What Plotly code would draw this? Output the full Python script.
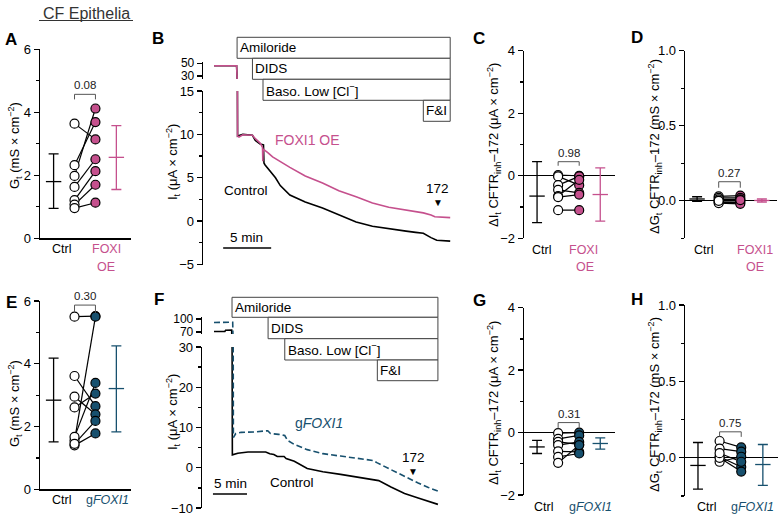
import plotly.graph_objects as go

W, H = 783, 523
FONT = "Liberation Sans, Arial, sans-serif"
PINK = "#C5508D"
BLUE = "#17506E"
BLACK = "black"

def fx(p):
    return p / W

def fy(p):
    return 1 - p / H

# ---------------- DATA ----------------
# Panel A: Gt (mS x cm^-2), paired Ctrl vs FOXI OE
A_ctrl = [3.64, 2.32, 1.98, 1.63, 1.21, 1.07, 0.96]
A_exp = [3.14, 3.69, 4.12, 2.51, 2.13, 1.70, 1.13]
A_ctrl_stats = [1.80, 0.95, 2.68]   # mean, low, high
A_exp_stats = [2.57, 1.55, 3.58]
A_p = "0.08"

# Panel C: dIt CFTRinh-172 (uA x cm^-2)
C_ctrl = [0.02, -0.02, -0.30, -0.45, -0.65, -0.68, -1.10]
C_exp = [0.00, -0.30, -0.02, -0.55, -0.13, -0.60, -1.10]
C_ctrl_stats = [-0.65, -1.50, 0.45]
C_exp_stats = [-0.60, -1.45, 0.25]
C_p = "0.98"

# Panel D: dGt CFTRinh-172 (mS x cm^-2)
D_ctrl = [0.03, 0.02, 0.01, 0.00, -0.01, -0.015, 0.00]
D_exp = [0.035, 0.02, 0.01, 0.00, -0.01, -0.02, 0.005]
D_ctrl_stats = [0.012, -0.003, 0.027]
D_exp_stats = [0.002, -0.008, 0.012]
D_p = "0.27"

# Panel E: Gt, Ctrl vs gFOXI1
E_ctrl = [5.50, 1.55, 3.61, 2.95, 2.61, 1.67, 1.40, 1.45]
E_exp = [5.52, 5.50, 2.65, 2.39, 3.05, 3.39, 1.78, 2.18]
E_ctrl_stats = [2.84, 1.51, 4.18]
E_exp_stats = [3.21, 1.83, 4.57]
E_p = "0.30"

# Panel G: dIt CFTRinh-172, Ctrl vs gFOXI1
G_ctrl = [-0.02, -0.20, -0.30, -0.40, -0.60, -0.78, -0.97]
G_exp = [0.00, -0.09, -0.38, -0.30, -0.62, -0.67, -0.40]
G_ctrl_stats = [-0.46, -0.67, -0.25]
G_exp_stats = [-0.35, -0.53, -0.17]
G_p = "0.31"

# Panel H: dGt CFTRinh-172, Ctrl vs gFOXI1
H_ctrl = [0.11, 0.06, 0.007, -0.026, 0.00, 0.03]
H_exp = [0.068, 0.04, -0.06, 0.007, -0.09, -0.026]
H_ctrl_stats = [-0.05, -0.205, 0.10]
H_exp_stats = [-0.044, -0.18, 0.087]
H_p = "0.75"

# Panel B traces: time (min) and It (uA x cm^-2)
B_t_ctrl = [0, 2.35, 2.45, 3.0, 4.0, 4.3, 4.8, 5.15, 5.2, 5.3, 6.4, 6.9, 7.9, 9.5, 11.3,
            13.0, 14.8, 16.5, 18.2, 20.0, 21.0, 21.8, 22.6, 23.2, 24.6]
B_I_ctrl = [46, 46, 9.8, 10.0, 9.9, 9.3, 8.9, 8.8, 6.7, 6.5, 5.0, 4.1, 3.0, 2.2, 1.5,
            0.7, -0.1, -0.6, -0.9, -1.15, -1.3, -1.4, -1.9, -2.2, -2.3]
B_t_exp = [0, 2.35, 2.45, 2.6, 3.0, 4.0, 4.3, 4.8, 5.05, 5.08, 5.12, 5.6, 6.1, 7.9, 9.5,
           11.3, 13.0, 14.8, 16.5, 18.2, 20.0, 21.0, 21.8, 22.6, 23.0, 24.6]
B_I_exp = [46, 46, 9.8, 9.7, 9.95, 9.9, 9.5, 9.0, 8.5, 6.9, 8.3, 7.9, 7.4, 6.2, 5.2,
           4.4, 3.5, 2.8, 2.1, 1.6, 1.25, 1.05, 0.95, 0.7, 0.5, 0.4]
B_box_labels = ["Amiloride", "DIDS", "Baso. Low [Cl<sup>\u2212</sup>]", "F&I"]
B_box_start = [2.4, 4.0, 5.1, 21.8]
B_end = 24.6
B_inh = 23.3

# Panel F traces
F_t_ctrl = [0, 1.6, 1.7, 2.6, 2.7, 3.5, 5.0, 7.0, 7.6, 8.2, 8.8, 9.3, 10.3, 10.6, 11.8,
            13.7, 16.0, 18.6, 21.0, 23.4, 24.2, 26.0, 28.0, 30.0, 31.5, 32.9]
F_I_ctrl = [71, 71.5, 74, 74.5, 3.2, 3.6, 3.9, 4.0, 3.9, 3.5, 3.3, 2.8, 2.8, 2.3, 1.6,
            -0.2, -1.0, -1.65, -2.3, -2.9, -3.2, -4.8, -6.4, -7.5, -8.4, -9.1]
F_t_exp = [0, 2.75, 2.85, 3.2, 4.0, 6.0, 7.9, 8.3, 9.5, 10.4, 10.8, 11.8, 13.7, 16.0,
           18.6, 21.0, 23.4, 24.0, 26.0, 28.0, 30.0, 31.5, 32.9]
F_I_exp = [92, 92.5, 7.5, 8.5, 8.8, 8.9, 9.2, 8.5, 8.3, 8.0, 6.8, 5.8, 4.5, 3.5,
           2.9, 2.4, 1.8, 1.2, -0.5, -2.1, -3.8, -4.9, -5.8]
F_box_labels = ["Amiloride", "DIDS", "Baso. Low [Cl<sup>\u2212</sup>]", "F&I"]
F_box_start = [2.65, 7.95, 10.4, 24.0]
F_end = 32.9
F_inh = 29.3

# ---------------- FIGURE ----------------
fig = go.Figure()
layout = dict(
    template="none",
    width=W, height=H, margin=dict(l=0, r=0, t=0, b=0, pad=0, autoexpand=False),
    paper_bgcolor="white", plot_bgcolor="white", showlegend=False,
    font=dict(family=FONT, color=BLACK, size=13),
)
annotations = []
shapes = []


def yax(domain_px, rng, tickvals, minor_vals, ticktext=None, anchor=None, zeroline=False, tsize=13):
    d = dict(
        domain=[fy(domain_px[1]), fy(domain_px[0])], range=rng, showline=True,
        linecolor=BLACK, linewidth=1.3, ticks="outside", ticklen=5, tickwidth=1.3,
        tickcolor=BLACK, showgrid=False, zeroline=zeroline, zerolinecolor=BLACK,
        zerolinewidth=1.3, tickvals=tickvals, tickfont=dict(size=tsize, family=FONT, color=BLACK),
        fixedrange=True, automargin=False,
        minor=dict(tickvals=minor_vals, ticks="outside", ticklen=3, tickwidth=1.3, tickcolor=BLACK,
                   showgrid=False),
    )
    if ticktext is not None:
        d["ticktext"] = ticktext
    if anchor is not None:
        d["anchor"] = anchor
    return d


def xax(domain_px, rng, anchor, show_line=False):
    return dict(
        domain=[fx(domain_px[0]), fx(domain_px[1])], range=rng, anchor=anchor,
        showline=show_line, linecolor=BLACK, linewidth=1.3, ticks="", showticklabels=False,
        showgrid=False, zeroline=False, fixedrange=True, automargin=False,
    )


def text(x, y, s, size=13, color=BLACK, xanchor="center", yanchor="middle", angle=0, bold=False):
    if bold:
        s = "<b>" + s + "</b>"
    annotations.append(dict(
        x=fx(x), y=fy(y), xref="paper", yref="paper", text=s, showarrow=False,
        xanchor=xanchor, yanchor=yanchor, textangle=angle,
        font=dict(size=size, color=color, family=FONT),
    ))


def dot_panel(n, ctrl, exp, cstats, estats, color, p, br_top, br_leg):
    xa, ya = f"x{n}", f"y{n}"
    lx, ly = [], []
    for c, e in zip(ctrl, exp):
        lx += [1, 2, None]
        ly += [c, e, None]
    fig.add_trace(go.Scatter(x=lx, y=ly, mode="lines", line=dict(color=BLACK, width=1.2),
                             xaxis=xa, yaxis=ya, hoverinfo="skip"))
    fig.add_trace(go.Scatter(x=[1] * len(ctrl), y=ctrl, mode="markers", cliponaxis=False,
                             marker=dict(size=9, color="white", line=dict(color=BLACK, width=1.2)),
                             xaxis=xa, yaxis=ya))
    fig.add_trace(go.Scatter(x=[2] * len(exp), y=exp, mode="markers", cliponaxis=False,
                             marker=dict(size=9, color=color, line=dict(color=BLACK, width=1.2)),
                             xaxis=xa, yaxis=ya))
    for xpos, st, col in ((0, cstats, BLACK), (3, estats, color)):
        m, lo, hi = st
        fig.add_trace(go.Scatter(
            x=[xpos], y=[m], mode="markers", cliponaxis=False,
            marker=dict(symbol="line-ew", size=11, line=dict(width=1.3, color=col)),
            error_y=dict(type="data", symmetric=False, array=[hi - m], arrayminus=[m - lo],
                         width=5, thickness=1.3, color=col),
            xaxis=xa, yaxis=ya))
    fig.add_trace(go.Scatter(x=[1, 1, 2, 2], y=[br_leg, br_top, br_top, br_leg], mode="lines",
                             cliponaxis=False, line=dict(color="#555", width=1),
                             xaxis=xa, yaxis=ya, hoverinfo="skip"))
    annotations.append(dict(x=1.5, y=br_top, xref=xa, yref=ya, text=p, showarrow=False,
                            yanchor="bottom", yshift=1, font=dict(size=11.5, family=FONT, color="#222")))


# ---- Panel A (axes 1)
layout["xaxis"] = xax((40, 131), [-0.65, 3.7], "y", show_line=True)
layout["yaxis"] = yax((49.3, 238.3), [0, 6], [0, 2, 4, 6], [1, 3, 5], anchor="x")
dot_panel(1, A_ctrl, A_exp, A_ctrl_stats, A_exp_stats, PINK, A_p, 4.57, 4.41)

# ---- Panel C (axes 4)
layout["xaxis4"] = xax((524, 615), [-0.62, 3.7], "y4")
layout["yaxis4"] = yax((50.7, 238.3), [-2, 4], [-2, 0, 2, 4], [-1, 1, 3], anchor="x4", zeroline=True)
dot_panel(4, C_ctrl, C_exp, C_ctrl_stats, C_exp_stats, PINK, C_p, 0.45, 0.32)

# ---- Panel D (axes 5)
layout["xaxis5"] = xax((685, 777), [-0.56, 3.7], "y5")
layout["yaxis5"] = yax((50.7, 238.3), [-0.25, 1.0], [0, 0.5, 1.0], [-0.25, 0.25, 0.75],
                       ticktext=["0.0", "0.5", "1.0"], anchor="x5", zeroline=True)
dot_panel(5, D_ctrl, D_exp, D_ctrl_stats, D_exp_stats, PINK, D_p, 0.127, 0.087)

# ---- Panel E (axes 6)
layout["xaxis6"] = xax((40, 131), [-0.65, 3.7], "y6", show_line=True)
layout["yaxis6"] = yax((301, 489.3), [0, 6], [0, 2, 4, 6], [1, 3, 5], anchor="x6")
dot_panel(6, E_ctrl, E_exp, E_ctrl_stats, E_exp_stats, BLUE, E_p, 5.87, 5.62)

# ---- Panel G (axes 9)
layout["xaxis9"] = xax((524, 615), [-0.62, 3.7], "y9")
layout["yaxis9"] = yax((307.7, 495), [-2, 4], [-2, 0, 2, 4], [-1, 1, 3], anchor="x9", zeroline=True)
dot_panel(9, G_ctrl, G_exp, G_ctrl_stats, G_exp_stats, BLUE, G_p, 0.32, 0.13)

# ---- Panel H (axes 10)
layout["xaxis10"] = xax((685, 778), [-0.6, 3.7], "y10")
layout["yaxis10"] = yax((305, 496), [-0.25, 1.0], [0, 0.5, 1.0], [-0.25, 0.25, 0.75],
                        ticktext=["0.0", "0.5", "1.0"], anchor="x10", zeroline=True)
dot_panel(10, H_ctrl, H_exp, H_ctrl_stats, H_exp_stats, BLUE, H_p, 0.17, 0.137)


# ---- Trace panels (B: x2 with y2 lower / y11 upper; F: x7 with y7 lower / y12 upper)
def trace_panel(xn, yl, yu, t_c, I_c, t_e, I_e, exp_color, exp_dash, exp_width):
    for ya in (f"y{yl}", f"y{yu}"):
        fig.add_trace(go.Scatter(x=t_c, y=I_c, mode="lines", line=dict(color=BLACK, width=1.6),
                                 xaxis=f"x{xn}", yaxis=ya, hoverinfo="skip"))
        fig.add_trace(go.Scatter(x=t_e, y=I_e, mode="lines",
                                 line=dict(color=exp_color, width=exp_width, dash=exp_dash),
                                 xaxis=f"x{xn}", yaxis=ya, hoverinfo="skip"))


def boxes(xn, starts, labels, end, tops_px, size=13.5):
    for i, (s, lab) in enumerate(zip(starts, labels)):
        shapes.append(dict(type="rect", xref=f"x{xn}", yref="paper", x0=s, x1=end,
                           y0=fy(tops_px[i + 1]), y1=fy(tops_px[i]),
                           line=dict(color="#444", width=1), fillcolor="white", layer="above"))
        annotations.append(dict(x=s, y=fy((tops_px[i] + tops_px[i + 1]) / 2), xref=f"x{xn}", yref="paper",
                                text=lab, showarrow=False, xanchor="left", yanchor="middle", xshift=1,
                                font=dict(size=size, family=FONT, color=BLACK)))


# Panel B
layout["xaxis2"] = dict(domain=[fx(203), fx(455)], range=[-1.15, 25.1], visible=False,
                        anchor="y2", fixedrange=True, automargin=False)
layout["yaxis2"] = yax((91, 264.5), [-5, 15], [-5, 0, 5, 10, 15], [-2.5, 2.5, 7.5, 12.5], anchor="x2")
layout["yaxis11"] = yax((62, 79), [25.3, 52], [30, 50], [], anchor="x2", tsize=12)
trace_panel(2, 2, 11, B_t_ctrl, B_I_ctrl, B_t_exp, B_I_exp, PINK, "solid", 1.6)
boxes(2, B_box_start, B_box_labels, B_end, [37.3, 58.3, 79.3, 100.3, 121.3])

# Panel F
layout["xaxis7"] = dict(domain=[fx(202), fx(442)], range=[-1.76, 33.5], visible=False,
                        anchor="y7", fixedrange=True, automargin=False)
layout["yaxis7"] = yax((347, 508), [-10, 30], [-10, 0, 10, 20, 30], [-5, 5, 15, 25], anchor="x7")
layout["yaxis12"] = yax((317, 334), [65.4, 104.6], [70, 100], [], anchor="x7", tsize=12)
trace_panel(7, 7, 12, F_t_ctrl, F_I_ctrl, F_t_exp, F_I_exp, BLUE, "6px,3px", 1.6)
boxes(7, F_box_start, F_box_labels, F_end, [297.3, 317.3, 338.7, 360, 380.7])

# Scale bars (5 min)
shapes.append(dict(type="line", xref="x2", yref="paper", x0=0.95, x1=5.95, y0=fy(248), y1=fy(248),
                   line=dict(color=BLACK, width=1.3)))
text(246, 238, "5 min", size=13.5)
shapes.append(dict(type="line", xref="x7", yref="paper", x0=-0.15, x1=4.85, y0=fy(494), y1=fy(494),
                   line=dict(color=BLACK, width=1.3)))
text(230, 483, "5 min", size=13.5)

# 172 markers
for xn, tval, ylab, yarr in ((2, B_inh, 188, 202), (7, F_inh, 457, 471)):
    annotations.append(dict(x=tval, y=fy(ylab), xref=f"x{xn}", yref="paper", text="172", showarrow=False,
                            yanchor="middle", font=dict(size=13.5, family=FONT, color=BLACK)))
    annotations.append(dict(x=tval, y=fy(yarr), xref=f"x{xn}", yref="paper", text="\u25BC", showarrow=False,
                            yanchor="middle", font=dict(size=10, family=FONT, color=BLACK)))

# Trace labels
text(273, 140, "FOXI1 OE", size=14, color=PINK, xanchor="left")
text(222, 190, "Control", size=13.5, xanchor="left")
text(293, 423, "g<i>FOXI1</i>", size=14, color=BLUE, xanchor="left")
text(268, 482, "Control", size=13.5, xanchor="left")

# Y-axis titles
YT = 13
text(15, 146, "G<sub>t</sub> (mS \u00d7 cm<sup>\u22122</sup>)", size=YT, angle=-90)
text(15, 404, "G<sub>t</sub> (mS \u00d7 cm<sup>\u22122</sup>)", size=YT, angle=-90)
text(173, 162, "I<sub>t</sub> (\u03bcA \u00d7 cm<sup>\u22122</sup>)", size=YT, angle=-90)
text(173, 412, "I<sub>t</sub> (\u03bcA \u00d7 cm<sup>\u22122</sup>)", size=YT, angle=-90)
text(494, 145, "\u0394I<sub>t</sub> CFTR<sub>inh</sub>\u2013172 (\u03bcA \u00d7 cm<sup>\u22122</sup>)", size=YT, angle=-90)
text(494, 403, "\u0394I<sub>t</sub> CFTR<sub>inh</sub>\u2013172 (\u03bcA \u00d7 cm<sup>\u22122</sup>)", size=YT, angle=-90)
text(655, 147, "\u0394G<sub>t</sub> CFTR<sub>inh</sub>\u2013172 (mS \u00d7 cm<sup>\u22122</sup>)", size=YT, angle=-90)
text(655, 405, "\u0394G<sub>t</sub> CFTR<sub>inh</sub>\u2013172 (mS \u00d7 cm<sup>\u22122</sup>)", size=YT, angle=-90)

# X labels
text(61, 249, "Ctrl", size=12.5)
text(106, 249, "FOXI", size=12.5, color=PINK)
text(106, 267, "OE", size=12.5, color=PINK)
text(541, 250, "Ctrl", size=12.5)
text(583, 250, "FOXI", size=12.5, color=PINK)
text(585, 267, "OE", size=12.5, color=PINK)
text(703, 250, "Ctrl", size=12.5)
text(755, 250, "FOXI1", size=12.5, color=PINK)
text(755, 267, "OE", size=12.5, color=PINK)
text(61, 500, "Ctrl", size=12.5)
text(107, 500, "g<i>FOXI1</i>", size=12.5, color=BLUE)
text(543, 507, "Ctrl", size=12.5)
text(590, 507, "g<i>FOXI1</i>", size=12.5, color=BLUE)
text(706, 507, "Ctrl", size=12.5)
text(752, 507, "g<i>FOXI1</i>", size=12.5, color=BLUE)

# Panel letters
for lab, x, y in (("A", 11, 40), ("B", 158, 38), ("C", 479, 38), ("D", 637, 37),
                  ("E", 11, 302), ("F", 159, 299), ("G", 479, 300), ("H", 637, 299)):
    text(x, y, lab, size=17, bold=True)

# Title
text(86, 13, "CF Epithelia", size=16, color="#333")
shapes.append(dict(type="line", xref="paper", yref="paper", x0=fx(39), x1=fx(133), y0=fy(20.5), y1=fy(20.5),
                   line=dict(color="#333", width=1)))

layout["annotations"] = annotations
layout["shapes"] = shapes
fig.update_layout(**layout)
fig.write_html("out.html", config={"displayModeBar": False, "staticPlot": True},
               post_script="document.body.style.margin='0';document.body.style.padding='0';"
                           "document.documentElement.style.overflow='hidden';")
